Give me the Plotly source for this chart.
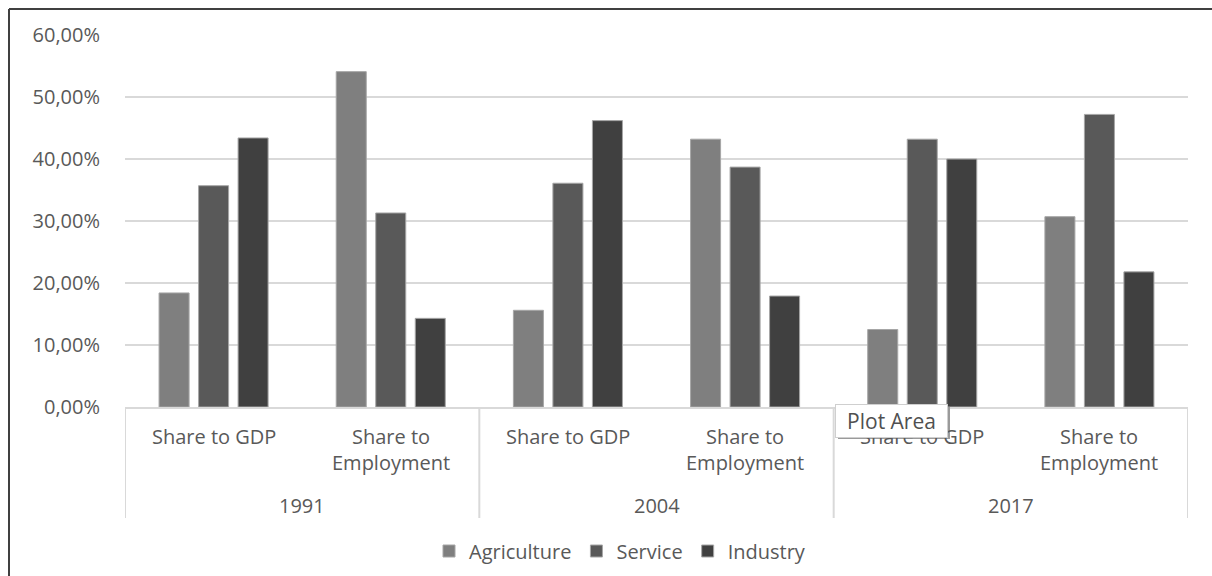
import plotly.graph_objects as go

# Sector shares by year and measure
years = ["1991", "2004", "2017"]
measures = ["Share to GDP", "Share to<br>Employment"]
agriculture = [0.184, 0.541, 0.156, 0.432, 0.125, 0.307]
service = [0.357, 0.313, 0.361, 0.387, 0.432, 0.472]
industry = [0.434, 0.143, 0.462, 0.179, 0.400, 0.218]

series = [
    ("Agriculture", agriculture, "#7f7f7f"),
    ("Service", service, "#595959"),
    ("Industry", industry, "#404040"),
]

x_keys = [f"{y}|{m}" for y in years for m in measures]

FONT = "Open Sans"
TXT = "#595959"
GRID = "#d9d9d9"
FS = 20

W, H = 1212, 576
L, R, T, B = 125, 24, 35, 169
PW, PH = W - L - R, H - T - B


def px_x(p):
    return (p - L) / PW


def px_y(p):
    return (H - B - p) / PH


fig = go.Figure()
for name, vals, col in series:
    fig.add_trace(go.Bar(
        name=name, x=x_keys, y=vals,
        marker=dict(color=col, line=dict(color="#a6a6a6", width=1)),
    ))

annotations = []
# inner category labels
for i, k in enumerate(x_keys):
    m = k.split("|")[1]
    annotations.append(dict(
        x=i, xref="x", y=px_y(421), yref="paper", xanchor="center", yanchor="top",
        text=m, showarrow=False, font=dict(family=FONT, size=FS, color=TXT),
    ))
# year labels
for j, y in enumerate(years):
    annotations.append(dict(
        x=2 * j + 0.5, xref="x", y=px_y(505), yref="paper", xanchor="center", yanchor="middle",
        text=y, showarrow=False, font=dict(family=FONT, size=FS, color=TXT),
    ))
# selection tooltip
annotations.append(dict(
    x=px_x(835), xref="paper", y=px_y(404), yref="paper", xanchor="left", yanchor="top",
    text="Plot Area", showarrow=False, font=dict(family=FONT, size=21, color="#505050"),
    width=109, height=30, align="center", valign="middle",
    bgcolor="white", bordercolor="#cfcfcf", borderwidth=1, borderpad=1,
))

shapes = []
# group dividers on the category axis
for xv in [-0.5, 1.5, 3.5, 5.5]:
    shapes.append(dict(type="line", xref="x", yref="paper", x0=xv, x1=xv,
                       y0=0, y1=px_y(518), line=dict(color=GRID, width=2)))
# tooltip shadow
shapes.append(dict(type="rect", xref="paper", yref="paper",
                   x0=px_x(838), x1=px_x(950), y0=px_y(407), y1=px_y(439),
                   fillcolor="#9a9a9a", line=dict(width=0), layer="above"))
# chart frame
shapes.append(dict(type="line", xref="paper", yref="paper", x0=px_x(9), x1=px_x(1212),
                   y0=px_y(9), y1=px_y(9), line=dict(color="#404040", width=2)))
shapes.append(dict(type="line", xref="paper", yref="paper", x0=px_x(9), x1=px_x(9),
                   y0=px_y(9), y1=px_y(576), line=dict(color="#404040", width=2)))

fig.update_layout(
    width=W, height=H,
    margin=dict(l=L, r=R, t=T, b=B, autoexpand=False),
    paper_bgcolor="white", plot_bgcolor="white",
    separators=",.",
    barmode="group", bargap=0.331, bargroupgap=0.24,
    font=dict(family=FONT, size=FS, color=TXT),
    xaxis=dict(range=[-0.5, 5.5], showticklabels=False, ticks="",
               showgrid=False, showline=True, linecolor=GRID, linewidth=2, zeroline=False),
    yaxis=dict(range=[0, 0.6001], tickvals=[0, 0.1, 0.2, 0.3, 0.4, 0.5, 0.6],
               tickformat=".2%", showgrid=True, gridcolor=GRID, gridwidth=2,
               zeroline=False, showline=False, ticks="", ticklabelstandoff=24,
               tickfont=dict(family=FONT, size=FS, color=TXT)),
    legend=dict(orientation="h", x=px_x(620), xanchor="center", y=px_y(551), yanchor="middle",
                font=dict(family=FONT, size=FS, color=TXT), itemwidth=30,
                traceorder="normal"),
    annotations=annotations,
    shapes=shapes,
)

fig.write_html("out.html")
